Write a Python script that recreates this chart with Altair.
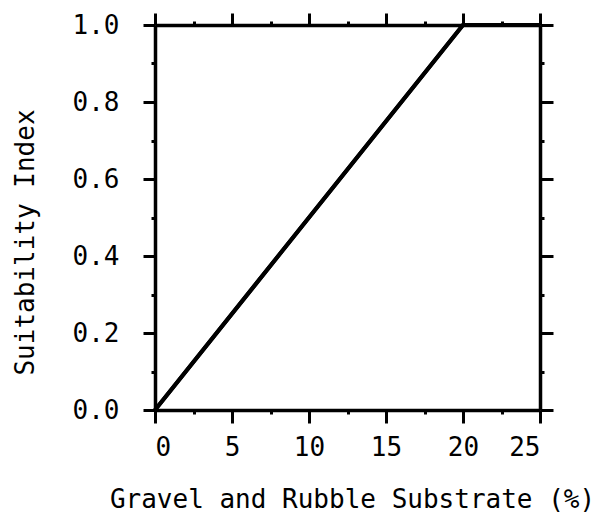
import altair as alt
import pandas as pd

# Data
gravel = [0, 20, 25]
suitability = [0.0, 1.0, 1.0]

x_ticks = [0, 2.5, 5, 7.5, 10, 12.5, 15, 17.5, 20, 22.5, 25]
y_ticks = [0.0, 0.1, 0.2, 0.3, 0.4, 0.5, 0.6, 0.7, 0.8, 0.9, 1.0]

df = pd.DataFrame({"gravel": gravel, "si": suitability})

FONT = "DejaVu Sans Mono"
X_MAJOR = "abs(datum.value % 5) < 1e-6"
Y_MAJOR = "round(datum.value * 10) % 2 === 0"

x_scale = alt.Scale(domain=[0, 25], nice=False, zero=False)
y_scale = alt.Scale(domain=[0, 1], nice=False, zero=False)

common_axis = dict(
    domainColor="black", domainWidth=3.5, tickColor="black", tickWidth=3,
    grid=False, labelFont=FONT, labelFontSize=26, labelColor="black",
    titleFont=FONT, titleFontSize=26, titleColor="black", titleFontWeight="normal",
)

x_bottom = alt.Axis(
    values=x_ticks, orient="bottom", title="Gravel and Rubble Substrate (%)",
    tickSize={"condition": {"test": X_MAJOR, "value": 13}, "value": 4},
    labelExpr=f"{X_MAJOR} ? format(datum.value, 'd') : ''",
    labelPadding=11, titleX=197, titleY=97, titleBaseline="alphabetic",
    titleAlign="center", **common_axis,
)
y_left = alt.Axis(
    values=y_ticks, orient="left", title="Suitability Index",
    tickSize={"condition": {"test": Y_MAJOR, "value": 12}, "value": 4},
    labelExpr=f"{Y_MAJOR} ? format(datum.value, '.1f') : ''",
    labelPadding=24, titleX=-122, titleY=217, titleBaseline="alphabetic",
    titleAlign="center", titleAngle=-90, **common_axis,
)
x_top = alt.Axis(
    values=x_ticks, orient="top", title=None, labels=False,
    tickSize={"condition": {"test": X_MAJOR, "value": 12}, "value": 4},
    **common_axis,
)
y_right = alt.Axis(
    values=y_ticks, orient="right", title=None, labels=False,
    tickSize={"condition": {"test": Y_MAJOR, "value": 13}, "value": 4},
    **common_axis,
)

base = alt.Chart(df)
line1 = base.mark_line(color="black", strokeWidth=4).encode(
    x=alt.X("gravel:Q", scale=x_scale, axis=x_bottom),
    y=alt.Y("si:Q", scale=y_scale, axis=y_left),
)
line2 = base.mark_line(color="black", strokeWidth=4).encode(
    x=alt.X("gravel:Q", scale=x_scale, axis=x_top),
    y=alt.Y("si:Q", scale=y_scale, axis=y_right),
)

chart = (
    alt.layer(line1, line2)
    .resolve_axis(x="independent", y="independent")
    .properties(
        width=385, height=385,
        autosize=alt.AutoSizeParams(type="none"),
        padding={"left": 147, "top": 17, "right": 54, "bottom": 102},
        background="white",
    )
    .configure_view(stroke=None)
)

chart.save("out.html", embed_options={"renderer": "svg", "actions": False})
